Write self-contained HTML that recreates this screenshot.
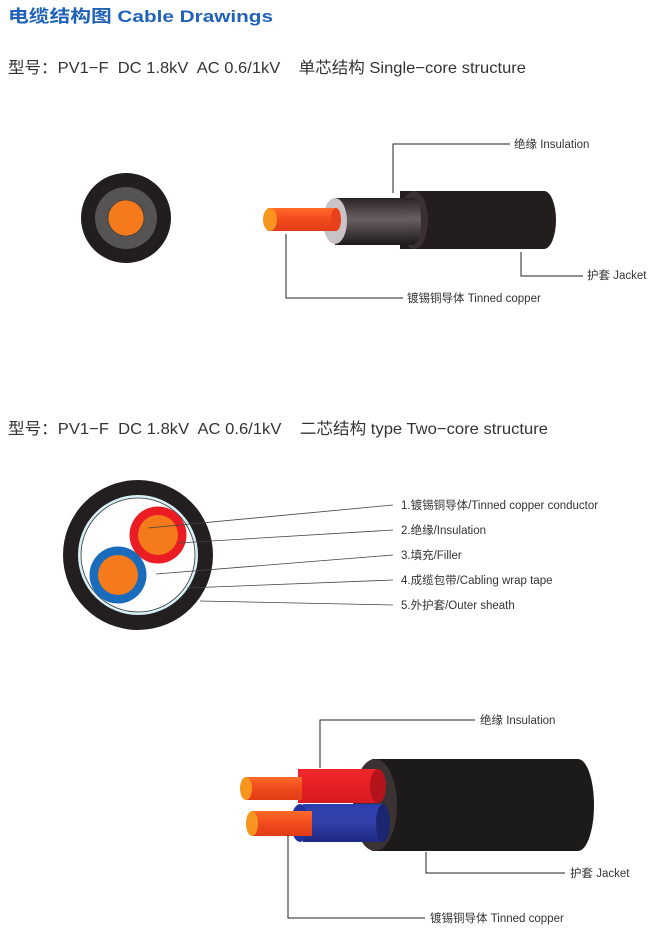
<!DOCTYPE html>
<html><head><meta charset="utf-8"><style>
html,body{margin:0;padding:0;background:#fff;}
svg{display:block;}
text{font-family:"Liberation Sans","Noto Sans CJK SC",sans-serif;white-space:pre;}
</style></head><body>
<svg width="658" height="929" viewBox="0 0 658 929" xmlns="http://www.w3.org/2000/svg" xml:space="preserve">
<defs>
<linearGradient id="ins" x1="0" y1="0" x2="0" y2="1">
<stop offset="0" stop-color="#2a2324"/><stop offset="0.45" stop-color="#6b5f60"/><stop offset="1" stop-color="#1e1a1a"/>
</linearGradient>
<linearGradient id="cu" x1="0" y1="0" x2="0" y2="1">
<stop offset="0" stop-color="#ff6a2a"/><stop offset="0.5" stop-color="#f04a1c"/><stop offset="1" stop-color="#e23d18"/>
</linearGradient>
<linearGradient id="red" x1="0" y1="0" x2="0" y2="1">
<stop offset="0" stop-color="#f0262a"/><stop offset="1" stop-color="#d81a22"/>
</linearGradient>
<linearGradient id="blue" x1="0" y1="0" x2="0" y2="1">
<stop offset="0" stop-color="#2c3fb0"/><stop offset="0.5" stop-color="#3340a8"/><stop offset="1" stop-color="#1c2880"/>
</linearGradient>
</defs>

<text x="8" y="22" font-size="17" font-weight="bold" fill="#1f62b8" textLength="265" lengthAdjust="spacingAndGlyphs">电缆结构图 Cable Drawings</text>
<text x="8" y="73" font-size="16" fill="#333" textLength="518" lengthAdjust="spacingAndGlyphs">型号：PV1−F  DC 1.8kV  AC 0.6/1kV    单芯结构 Single−core structure</text>

<circle cx="126" cy="218" r="45" fill="#221e1f"/>
<circle cx="126" cy="218" r="31" fill="#555354"/>
<circle cx="126" cy="218" r="18" fill="#f47a1c" stroke="#333" stroke-width="0.6"/>

<path d="M400 191 H544 A12 29 0 0 1 544 249 H400 Z" fill="#231d1e"/>
<ellipse cx="414" cy="220" rx="14" ry="29" fill="#3a3031"/>
<rect x="335" y="198" width="80" height="47" fill="url(#ins)"/>
<ellipse cx="414" cy="221" rx="7" ry="23" fill="url(#ins)"/>
<ellipse cx="335" cy="221" rx="12" ry="23" fill="#c9c2c6"/>
<rect x="268" y="208" width="68" height="23" fill="url(#cu)"/>
<ellipse cx="336" cy="219.5" rx="5" ry="11.5" fill="#e8401a"/>
<ellipse cx="270" cy="219.5" rx="7" ry="11.5" fill="#f7951f"/>

<g stroke="#222" stroke-width="1" fill="none">
<polyline points="393,193 393,144 510,144"/>
<polyline points="521,252 521,276 583,276"/>
<polyline points="286,234 286,298 403,298"/>
</g>
<g font-size="11.5" fill="#333">
<text x="514" y="148">绝缘 Insulation</text>
<text x="587" y="279">护套 Jacket</text>
<text x="407" y="302">镀锡铜导体 Tinned copper</text>
</g>

<text x="8" y="434" font-size="16" fill="#333" textLength="540" lengthAdjust="spacingAndGlyphs">型号：PV1−F  DC 1.8kV  AC 0.6/1kV    二芯结构 type Two−core structure</text>

<circle cx="138" cy="555" r="75" fill="#231f20"/>
<circle cx="138" cy="555" r="60" fill="#d6f0f6"/>
<circle cx="138" cy="555" r="57" fill="#fff" stroke="#333" stroke-width="0.8"/>
<circle cx="158" cy="535" r="28.5" fill="#ec1c24"/>
<circle cx="158" cy="535" r="20" fill="#f47a1c"/>
<circle cx="118" cy="575" r="28.5" fill="#1b6bbd"/>
<circle cx="118" cy="575" r="20" fill="#f47a1c"/>
<g stroke="#444" stroke-width="0.8">
<line x1="148" y1="528" x2="393" y2="505"/>
<line x1="178" y1="543" x2="393" y2="530"/>
<line x1="156" y1="574" x2="393" y2="555"/>
<line x1="187" y1="588" x2="393" y2="580"/>
<line x1="200" y1="601" x2="393" y2="605"/>
</g>
<g font-size="11.5" fill="#333">
<text x="401" y="509">1.镀锡铜导体/Tinned copper conductor</text>
<text x="401" y="534">2.绝缘/Insulation</text>
<text x="401" y="559">3.填充/Filler</text>
<text x="401" y="584">4.成缆包带/Cabling wrap tape</text>
<text x="401" y="609">5.外护套/Outer sheath</text>
</g>

<path d="M372 759 H578 A16 46 0 0 1 578 851 H372 Z" fill="#1d1a1a"/>
<ellipse cx="375" cy="805" rx="22" ry="46" fill="#3b3233"/>
<rect x="298" y="769" width="80" height="34" fill="url(#red)"/>
<ellipse cx="378" cy="786" rx="8" ry="17" fill="#b3141b"/>
<rect x="303" y="804" width="80" height="38" fill="url(#blue)"/>
<ellipse cx="383" cy="823" rx="7" ry="19" fill="#1c2570"/>
<ellipse cx="300" cy="823" rx="9" ry="19" fill="#2233a0"/>
<rect x="246" y="777" width="56" height="23" fill="url(#cu)"/>
<ellipse cx="246" cy="788.5" rx="6" ry="11.5" fill="#f7951f"/>
<rect x="252" y="811" width="60" height="25" fill="url(#cu)"/>
<ellipse cx="252" cy="823.5" rx="6" ry="12.5" fill="#f7951f"/>

<g stroke="#222" stroke-width="1" fill="none">
<polyline points="320,768 320,720 475,720"/>
<polyline points="426,852 426,873 565,873"/>
<polyline points="288,835 288,918 425,918"/>
</g>
<g font-size="11.5" fill="#333">
<text x="480" y="724">绝缘 Insulation</text>
<text x="570" y="877">护套 Jacket</text>
<text x="430" y="922">镀锡铜导体 Tinned copper</text>
</g>
</svg>
</body></html>
